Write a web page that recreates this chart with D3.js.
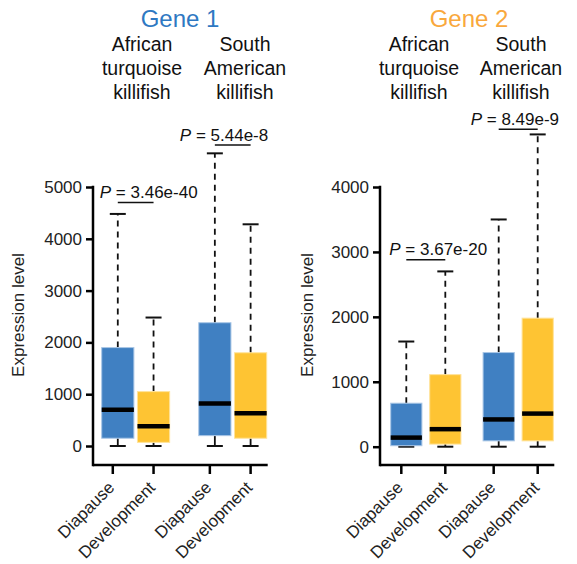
<!DOCTYPE html>
<html>
<head>
<meta charset="utf-8">
<script src="https://cdn.jsdelivr.net/npm/d3@7"></script>
<style>
  body { margin: 0; background: #fff; }
  svg { font-family: "Liberation Sans", Arial, Helvetica, sans-serif; }
</style>
</head>
<body>
<svg width="577" height="564"></svg>
<script>
// Data
const stages = ["Diapause", "Development"];
const speciesNames = ["African turquoise killifish", "South American killifish"];
const speciesLines = [["African", "turquoise", "killifish"], ["South", "American", "killifish"]];

// [min, q1, median, q3, max] per box: African D, African Dev, SA D, SA Dev
const gene1Boxes = [
    [0, 150, 700, 1900, 4480],
    [0, 70, 380, 1050, 2480],
    [0, 200, 820, 2380, 5650],
    [0, 150, 630, 1800, 4280]
];
const gene2Boxes = [
    [0, 15, 140, 670, 1620],
    [0, 40, 270, 1110, 2700],
    [0, 90, 420, 1450, 3500],
    [0, 90, 510, 1980, 4810]
];
const gene1Ticks = [0, 1000, 2000, 3000, 4000, 5000];
const gene2Ticks = [0, 1000, 2000, 3000, 4000];
const gene1P = ["3.46e-40", "5.44e-8"];
const gene2P = ["3.67e-20", "8.49e-9"];
const gene1PLevel = [4700, 5810];   // bracket height, data units
const gene2PLevel = [2880, 4890];

const stageColors = { "Diapause": "#4080C2", "Development": "#FEC433" };
const stageEdge = { "Diapause": "#a9c6e6", "Development": "#ffe39a" };

const panels = [
    { gene: "Gene 1", color: "#2E78C2", boxes: gene1Boxes, ticks: gene1Ticks, yMax: 5000,
      p: gene1P, pLevel: gene1PLevel, pDx: [-18, -35],
      axisX: 93, boxRange: [101.7, 266.7], groupPad: 0.3, boxPad: 0.1,
      yZero: 446, yTop: 187, titleX: 180, speciesX: [142, 245], labelX: 24 },
    { gene: "Gene 2", color: "#F9A83C", boxes: gene2Boxes, ticks: gene2Ticks, yMax: 4000,
      p: gene2P, pLevel: gene2PLevel, pDx: [-17, -28],
      axisX: 380, boxRange: [390.7, 553.3], groupPad: 0.24, boxPad: 0.2,
      yZero: 446.7, yTop: 187, titleX: 469, speciesX: [419, 521], labelX: 313 }
];

const svg = d3.select("svg");
const xAxisY = 465;
const axisWidth = 2.5;

panels.forEach(pn => {
    const g = svg.append("g");

    const y = d3.scaleLinear().domain([0, pn.yMax]).range([pn.yZero, pn.yTop]);
    const xGroup = d3.scaleBand().domain(speciesNames).range(pn.boxRange)
        .paddingInner(pn.groupPad).paddingOuter(0);
    const xStage = d3.scaleBand().domain(stages).range([0, xGroup.bandwidth()])
        .paddingInner(pn.boxPad).paddingOuter(0);
    const bw = xStage.bandwidth();

    const boxData = [];
    speciesNames.forEach((sp, i) => {
        stages.forEach((st, j) => {
            const v = pn.boxes[i * 2 + j];
            const x0 = xGroup(sp) + xStage(st);
            boxData.push({ sp, st, x0, cx: x0 + bw / 2, min: v[0], q1: v[1], med: v[2], q3: v[3], max: v[4] });
        });
    });

    // Titles
    g.append("text")
        .attr("x", pn.titleX).attr("y", 27)
        .attr("text-anchor", "middle")
        .attr("font-size", 24)
        .attr("fill", pn.color)
        .text(pn.gene);

    speciesLines.forEach((lines, i) => {
        const t = g.append("text")
            .attr("text-anchor", "middle")
            .attr("font-size", 19.5)
            .attr("fill", "#111");
        lines.forEach((ln, k) => {
            t.append("tspan").attr("x", pn.speciesX[i]).attr("y", 51 + k * 23.8).text(ln);
        });
    });

    // Y axis
    const yAxis = d3.axisLeft(y).tickValues(pn.ticks).tickFormat(d3.format("d"))
        .tickSize(7).tickSizeOuter(0).tickPadding(4);
    const ya = g.append("g")
        .attr("transform", `translate(${pn.axisX},0)`)
        .call(yAxis);
    ya.select(".domain").remove();
    ya.selectAll(".tick line").attr("stroke", "#000").attr("stroke-width", axisWidth);
    ya.selectAll(".tick text").attr("font-size", 17).attr("fill", "#222")
        .attr("font-family", "Liberation Sans, Arial, sans-serif");
    g.append("line")
        .attr("x1", pn.axisX).attr("x2", pn.axisX)
        .attr("y1", y(pn.yMax) - axisWidth / 2).attr("y2", xAxisY + axisWidth / 2)
        .attr("stroke", "#000").attr("stroke-width", axisWidth);

    // X axis
    g.append("line")
        .attr("x1", pn.axisX).attr("x2", pn.boxRange[1] + 1)
        .attr("y1", xAxisY).attr("y2", xAxisY)
        .attr("stroke", "#000").attr("stroke-width", axisWidth);
    const tickShift = { "Diapause": -5, "Development": 0 };
    g.selectAll(".xtick").data(boxData).enter().append("line")
        .attr("x1", d => d.cx + tickShift[d.st]).attr("x2", d => d.cx + tickShift[d.st])
        .attr("y1", xAxisY).attr("y2", xAxisY + 9)
        .attr("stroke", "#000").attr("stroke-width", axisWidth);
    g.selectAll(".xlab").data(boxData).enter().append("text")
        .attr("transform", d => `translate(${d.cx + tickShift[d.st] - 6},${xAxisY + 15}) rotate(-45)`)
        .attr("text-anchor", "end")
        .attr("dy", "0.72em")
        .attr("font-size", 17)
        .attr("fill", "#222")
        .text(d => d.st);

    g.append("text")
        .attr("transform", `translate(${pn.labelX},315) rotate(-90)`)
        .attr("text-anchor", "middle")
        .attr("font-size", 17)
        .attr("fill", "#222")
        .text("Expression level");

    // Whiskers (dashed)
    const whisk = g.append("g");
    whisk.selectAll(".wu").data(boxData).enter().append("line")
        .attr("x1", d => d.cx).attr("x2", d => d.cx)
        .attr("y1", d => y(d.q3)).attr("y2", d => y(d.max))
        .attr("stroke", "#111").attr("stroke-width", 1.8).attr("stroke-dasharray", "6,5");
    whisk.selectAll(".wl").data(boxData).enter().append("line")
        .attr("x1", d => d.cx).attr("x2", d => d.cx)
        .attr("y1", d => y(d.q1)).attr("y2", d => y(d.min))
        .attr("stroke", "#111").attr("stroke-width", 1.8);
    whisk.selectAll(".capu").data(boxData).enter().append("line")
        .attr("x1", d => d.cx - 8).attr("x2", d => d.cx + 8)
        .attr("y1", d => y(d.max)).attr("y2", d => y(d.max))
        .attr("stroke", "#111").attr("stroke-width", 2);
    whisk.selectAll(".capl").data(boxData).enter().append("line")
        .attr("x1", d => d.cx - 8).attr("x2", d => d.cx + 8)
        .attr("y1", d => y(d.min)).attr("y2", d => y(d.min))
        .attr("stroke", "#111").attr("stroke-width", 2);

    // Boxes
    g.selectAll(".box").data(boxData).enter().append("rect")
        .attr("x", d => d.x0)
        .attr("y", d => y(d.q3))
        .attr("width", bw)
        .attr("height", d => y(d.q1) - y(d.q3))
        .attr("fill", d => stageColors[d.st])
        .attr("stroke", d => stageEdge[d.st])
        .attr("stroke-width", 1);
    g.selectAll(".med").data(boxData).enter().append("line")
        .attr("x1", d => d.x0).attr("x2", d => d.x0 + bw)
        .attr("y1", d => y(d.med)).attr("y2", d => y(d.med))
        .attr("stroke", "#000").attr("stroke-width", 4.5);

    // P-value brackets
    speciesNames.forEach((sp, i) => {
        const a = boxData[i * 2], b = boxData[i * 2 + 1];
        const ly = y(pn.pLevel[i]);
        g.append("line")
            .attr("x1", a.cx).attr("x2", b.cx)
            .attr("y1", ly).attr("y2", ly)
            .attr("stroke", "#111").attr("stroke-width", 1.5);
        const t = g.append("text")
            .attr("x", a.cx + pn.pDx[i]).attr("y", ly - 4.5)
            .attr("font-size", 17).attr("fill", "#111");
        t.append("tspan").attr("font-style", "italic").text("P");
        t.append("tspan").text(" = " + pn.p[i]);
    });
});
</script>
</body>
</html>
